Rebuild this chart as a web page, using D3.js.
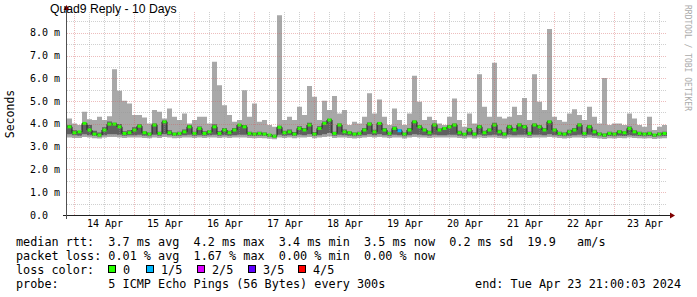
<!DOCTYPE html>
<html>
<head>
<meta charset="utf-8">
<script src="https://cdn.jsdelivr.net/npm/d3@7/dist/d3.min.js"></script>
<style>
  body { margin: 0; background: #fff; }
  svg text { font-family: "DejaVu Sans Mono", monospace; fill: #000; white-space: pre; }
</style>
</head>
<body>
<div id="svg_graph"></div>
<script>
// time range of the graph, one bin every 2 hours
const start = Date.UTC(2024, 3, 13, 21, 0, 3);
const end = Date.UTC(2024, 3, 23, 21, 0, 3);
const binMs = 2 * 3600 * 1000;

// smoke: max ping, 4th ping, 2nd ping, min ping (ms)
const hi = [
  4.24, 4.02, 3.95, 4.53, 4.20, 4.17, 4.31, 4.17, 4.34, 6.40,
  5.45, 5.02, 4.90, 4.39, 4.39, 4.28, 4.02, 4.61, 4.53, 4.24,
  4.68, 4.31, 4.17, 4.46, 4.02, 4.17, 4.31, 4.31, 4.02, 6.73,
  5.70, 4.82, 4.39, 4.09, 4.17, 5.48, 4.31, 4.90, 4.09, 4.17,
  3.95, 3.87, 8.77, 4.17, 4.31, 4.17, 4.75, 4.39, 5.66, 5.19,
  4.17, 5.02, 4.61, 5.22, 4.46, 4.61, 3.95, 4.09, 4.02, 4.31,
  5.34, 4.46, 5.07, 4.31, 3.95, 4.68, 4.17, 3.95, 4.46, 6.11,
  4.97, 4.17, 4.31, 4.17, 4.02, 3.95, 4.31, 5.11, 4.17, 3.87,
  4.46, 4.02, 6.18, 4.75, 4.31, 6.68, 4.31, 4.24, 4.31, 4.75,
  4.39, 5.14, 4.17, 6.18, 4.97, 4.61, 8.16, 4.31, 4.17, 4.09,
  4.46, 4.64, 4.39, 4.17, 4.75, 4.31, 4.02, 6.01, 3.95, 4.02,
  4.02, 3.95, 4.46, 4.24, 3.95, 3.87, 4.31, 3.73, 3.87, 3.95
];
const p4 = [
  3.95, 3.72, 3.68, 4.05, 3.95, 3.70, 3.62, 3.85, 4.10, 4.05,
  4.00, 3.68, 3.72, 3.85, 3.98, 3.68, 3.62, 4.02, 3.66, 4.15,
  3.72, 3.62, 3.66, 3.75, 3.95, 3.66, 3.88, 3.68, 3.72, 3.98,
  3.68, 3.82, 3.70, 3.82, 4.00, 3.95, 3.66, 3.62, 3.65, 3.62,
  3.56, 3.52, 3.92, 3.70, 3.75, 3.64, 3.90, 3.82, 4.05, 3.64,
  3.90, 4.10, 4.22, 3.66, 4.02, 3.75, 3.68, 3.62, 3.66, 3.82,
  4.06, 3.74, 4.08, 3.82, 3.65, 3.88, 3.76, 3.62, 3.82, 4.15,
  3.95, 3.80, 3.70, 4.02, 3.80, 3.86, 3.95, 4.02, 3.70, 3.60,
  3.82, 3.62, 3.95, 3.70, 3.80, 4.05, 3.74, 3.62, 3.95, 3.82,
  4.02, 3.95, 3.66, 4.02, 3.95, 3.82, 4.15, 3.80, 3.66, 3.62,
  3.74, 3.82, 4.02, 3.66, 3.95, 3.74, 3.62, 3.58, 3.65, 3.62,
  3.72, 3.68, 3.88, 3.72, 3.65, 3.62, 3.66, 3.56, 3.62, 3.65
];
const p2 = [
  3.55, 3.50, 3.48, 3.55, 3.50, 3.47, 3.45, 3.50, 3.55, 3.55,
  3.52, 3.48, 3.50, 3.50, 3.52, 3.48, 3.46, 3.52, 3.48, 3.55,
  3.50, 3.47, 3.48, 3.50, 3.52, 3.48, 3.50, 3.48, 3.50, 3.52,
  3.48, 3.50, 3.48, 3.50, 3.52, 3.52, 3.48, 3.47, 3.48, 3.47,
  3.44, 3.40, 3.52, 3.48, 3.50, 3.47, 3.52, 3.50, 3.55, 3.47,
  3.50, 3.55, 3.60, 3.48, 3.52, 3.50, 3.48, 3.46, 3.48, 3.50,
  3.55, 3.50, 3.55, 3.50, 3.48, 3.52, 3.50, 3.46, 3.50, 3.55,
  3.52, 3.50, 3.48, 3.52, 3.50, 3.50, 3.52, 3.52, 3.48, 3.46,
  3.50, 3.46, 3.52, 3.48, 3.50, 3.52, 3.48, 3.46, 3.52, 3.50,
  3.52, 3.52, 3.48, 3.52, 3.52, 3.50, 3.55, 3.50, 3.48, 3.46,
  3.48, 3.50, 3.52, 3.48, 3.52, 3.48, 3.46, 3.44, 3.47, 3.46,
  3.48, 3.47, 3.50, 3.48, 3.47, 3.46, 3.47, 3.44, 3.46, 3.47
];
const lo = [
  3.40, 3.38, 3.38, 3.42, 3.40, 3.37, 3.36, 3.40, 3.42, 3.42,
  3.40, 3.38, 3.40, 3.40, 3.40, 3.38, 3.37, 3.40, 3.38, 3.42,
  3.40, 3.37, 3.38, 3.40, 3.40, 3.38, 3.40, 3.38, 3.40, 3.40,
  3.38, 3.40, 3.38, 3.40, 3.40, 3.40, 3.38, 3.37, 3.38, 3.37,
  3.35, 3.33, 3.40, 3.38, 3.40, 3.37, 3.40, 3.40, 3.42, 3.37,
  3.40, 3.42, 3.45, 3.38, 3.40, 3.40, 3.38, 3.36, 3.38, 3.40,
  3.42, 3.40, 3.42, 3.40, 3.38, 3.40, 3.40, 3.36, 3.40, 3.42,
  3.40, 3.40, 3.38, 3.40, 3.40, 3.40, 3.40, 3.40, 3.38, 3.36,
  3.40, 3.36, 3.40, 3.38, 3.40, 3.40, 3.38, 3.36, 3.40, 3.40,
  3.40, 3.40, 3.38, 3.40, 3.40, 3.40, 3.42, 3.40, 3.38, 3.36,
  3.38, 3.40, 3.40, 3.38, 3.40, 3.38, 3.36, 3.34, 3.37, 3.36,
  3.38, 3.37, 3.40, 3.38, 3.37, 3.36, 3.37, 3.34, 3.36, 3.37
];
// median rtt (ms)
const med = [
  3.87, 3.61, 3.65, 4.02, 3.73, 3.55, 3.51, 3.73, 3.99, 3.99,
  3.87, 3.58, 3.61, 3.73, 3.90, 3.61, 3.55, 3.95, 3.58, 4.09,
  3.61, 3.55, 3.58, 3.65, 3.87, 3.58, 3.80, 3.58, 3.65, 3.87,
  3.58, 3.73, 3.61, 3.73, 3.95, 3.87, 3.58, 3.55, 3.58, 3.55,
  3.51, 3.46, 3.85, 3.61, 3.65, 3.55, 3.80, 3.73, 3.95, 3.55,
  3.80, 4.02, 4.17, 3.58, 3.95, 3.65, 3.61, 3.55, 3.58, 3.73,
  3.99, 3.65, 4.02, 3.73, 3.58, 3.80, 3.70, 3.55, 3.73, 4.09,
  3.87, 3.73, 3.61, 3.95, 3.73, 3.80, 3.87, 3.95, 3.61, 3.55,
  3.73, 3.55, 3.87, 3.61, 3.73, 3.95, 3.65, 3.55, 3.87, 3.73,
  3.95, 3.87, 3.58, 3.95, 3.87, 3.73, 4.09, 3.73, 3.58, 3.55,
  3.65, 3.73, 3.95, 3.58, 3.87, 3.65, 3.55, 3.51, 3.58, 3.55,
  3.65, 3.61, 3.80, 3.65, 3.58, 3.55, 3.58, 3.51, 3.55, 3.58
];
// bins with lost pings: [bin, lost of 5]
const lossBins = [[66, 1]];

const lossColors = ['#26ff00', '#00b8ff', '#dd00ff', '#5e00ff', '#ff0000'];
const lossLabels = ['0', '1/5', '2/5', '3/5', '4/5'];

const yMajor = [1, 2, 3, 4, 5, 6, 7, 8];
const yMinor = [0.5, 1.5, 2.5, 3.5, 4.5, 5.5, 6.5, 7.5, 8.5];
const yLabels = ['0.0', '1.0 m', '2.0 m', '3.0 m', '4.0 m', '5.0 m', '6.0 m', '7.0 m', '8.0 m'];

const legendLines = [
  'median rtt:  3.7 ms avg  4.2 ms max  3.4 ms min  3.5 ms now  0.2 ms sd  19.9   am/s',
  'packet loss: 0.01 % avg  1.67 % max  0.00 % min  0.00 % now',
  'loss color:',
  'probe:       5 ICMP Echo Pings (56 Bytes) every 300s'
];
const endLabel = 'end: Tue Apr 23 21:00:03 2024';

const width = 697, height = 297;
const plotLeft = 67, plotRight = 667, plotTop = 12, plotBottom = 215;

const svg = d3.select('#svg_graph')
  .append('svg')
    .attr('width', width)
    .attr('height', height);

const x = d3.scaleUtc().domain([start, end]).range([plotLeft, plotRight]);
const y = d3.scaleLinear().domain([0, 9]).range([plotBottom, plotBottom - 9 * 22.78]);

const bins = med.map((m, i) => ({
  t: start + i * binMs, hi: hi[i], p4: p4[i], p2: p2[i], lo: lo[i], med: m, loss: 0
}));
lossBins.forEach(([i, l]) => { bins[i].loss = l; });
// extra point so the last step reaches the right edge
const steps = bins.concat([Object.assign({}, bins[bins.length - 1], { t: end })]);

// smoke
const smoke = (a, b) => d3.area()
  .curve(d3.curveStepAfter)
  .x(d => x(d.t))
  .y0(d => y(d[a]))
  .y1(d => y(d[b]));

svg.append('path')
  .datum(steps)
  .attr('fill', '#a8a8a8')
  .attr('d', smoke('lo', 'hi'));

svg.append('path')
  .datum(steps)
  .attr('fill', '#606060')
  .attr('d', smoke('p2', 'p4'));

// median line + loss colour band
svg.append('path')
  .datum(steps)
  .attr('fill', 'none')
  .attr('stroke', '#202020')
  .attr('stroke-width', 1)
  .attr('d', d3.line().curve(d3.curveStepAfter).x(d => x(d.t)).y(d => y(d.med)));

svg.selectAll('rect.med')
  .data(bins)
  .enter()
  .append('rect')
  .attr('class', 'med')
  .attr('x', d => x(d.t) + 0.5)
  .attr('width', d => x(d.t + binMs) - x(d.t) - 1)
  .attr('y', d => y(d.med) - 1.5)
  .attr('height', 3)
  .style('fill', d => lossColors[d.loss]);

// grid (drawn over the data like rrdtool)
const grid = svg.append('g').attr('stroke-width', 1).attr('stroke-dasharray', '1,1');
const minorColor = 'rgba(150,150,150,0.45)';
const majorColor = 'rgba(210,90,90,0.4)';

grid.selectAll('line.hminor')
  .data(yMinor)
  .enter()
  .append('line')
  .attr('x1', plotLeft).attr('x2', plotRight)
  .attr('y1', d => Math.round(y(d)) + 0.5).attr('y2', d => Math.round(y(d)) + 0.5)
  .attr('stroke', minorColor);

const hours = d3.utcHour.every(6).range(start, end).filter(d => d.getUTCHours() !== 0);
grid.selectAll('line.vminor')
  .data(hours)
  .enter()
  .append('line')
  .attr('x1', d => Math.round(x(d)) + 0.5).attr('x2', d => Math.round(x(d)) + 0.5)
  .attr('y1', plotTop).attr('y2', plotBottom)
  .attr('stroke', minorColor);

grid.selectAll('line.hmajor')
  .data(yMajor)
  .enter()
  .append('line')
  .attr('x1', plotLeft).attr('x2', plotRight)
  .attr('y1', d => Math.round(y(d)) + 0.5).attr('y2', d => Math.round(y(d)) + 0.5)
  .attr('stroke', majorColor);

const days = d3.utcDay.range(start, end);
grid.selectAll('line.vmajor')
  .data(days)
  .enter()
  .append('line')
  .attr('x1', d => Math.round(x(d)) + 0.5).attr('x2', d => Math.round(x(d)) + 0.5)
  .attr('y1', plotTop).attr('y2', plotBottom)
  .attr('stroke', majorColor);

// axes
svg.append('line')
  .attr('x1', plotLeft - 4).attr('x2', plotRight + 3)
  .attr('y1', plotBottom + 0.5).attr('y2', plotBottom + 0.5)
  .attr('stroke', '#202020');
svg.append('path')
  .attr('d', `M${plotRight + 3},${plotBottom - 2.5}L${plotRight + 8},${plotBottom + 0.5}L${plotRight + 3},${plotBottom + 3.5}Z`)
  .attr('fill', '#7f0000');

svg.append('line')
  .attr('x1', plotLeft - 0.5).attr('x2', plotLeft - 0.5)
  .attr('y1', plotBottom + 4).attr('y2', plotTop - 2)
  .attr('stroke', '#505050');
svg.append('path')
  .attr('d', `M${plotLeft - 3.5},${plotTop - 2}L${plotLeft - 0.5},${plotTop - 7}L${plotLeft + 2.5},${plotTop - 2}Z`)
  .attr('fill', '#7f0000');

// y labels
svg.selectAll('text.ylab')
  .data(yLabels)
  .enter()
  .append('text')
  .attr('x', 30)
  .attr('y', (d, i) => y(i) + 3.5)
  .style('font-size', '10px')
  .text(d => d);

// date labels at noon
const xAxis = d3.axisBottom(x)
  .tickValues(days.map(d => d3.utcHour.offset(d, 12)))
  .tickSize(0)
  .tickPadding(0)
  .tickFormat(d3.utcFormat('%d %b'));

svg.append('g')
  .attr('transform', 'translate(0,' + (plotBottom + 5) + ')')
  .call(xAxis)
  .call(g => g.select('.domain').remove())
  .selectAll('text')
    .attr('dy', '0.71em')
    .style('font-family', '"DejaVu Sans Mono", monospace')
    .style('font-size', '10px')
    .attr('fill', '#000');

// title and side texts
svg.append('text')
  .attr('x', 50).attr('y', 13)
  .style('font-family', '"Liberation Sans", Arial, sans-serif')
  .style('font-size', '12.2px')
  .text('Quad9 Reply - 10 Days');

svg.append('text')
  .attr('transform', 'translate(14,114) rotate(-90)')
  .attr('text-anchor', 'middle')
  .style('font-size', '11.5px')
  .text('Seconds');

svg.append('text')
  .attr('transform', 'translate(685,5) rotate(90)')
  .style('font-size', '8px')
  .style('fill', '#aaaaaa')
  .text('RRDTOOL / TOBI OETIKER');

// legend
const legend = svg.append('g').style('font-size', '11.8px');
legend.selectAll('text.row')
  .data(legendLines)
  .enter()
  .append('text')
  .attr('x', 16)
  .attr('y', (d, i) => 245.5 + i * 14)
  .text(d => d);

const boxX = [108, 146, 197, 248, 298];
lossColors.forEach((c, i) => {
  legend.append('rect')
    .attr('x', boxX[i] + 0.5).attr('y', 265.5)
    .attr('width', 7).attr('height', 7)
    .attr('fill', c)
    .attr('stroke', '#000');
  legend.append('text')
    .attr('x', boxX[i] + 15).attr('y', 273.5)
    .text(lossLabels[i]);
});

legend.append('text')
  .attr('x', 681).attr('y', 287.5)
  .attr('text-anchor', 'end')
  .text(endLabel);
</script>
</body>
</html>
